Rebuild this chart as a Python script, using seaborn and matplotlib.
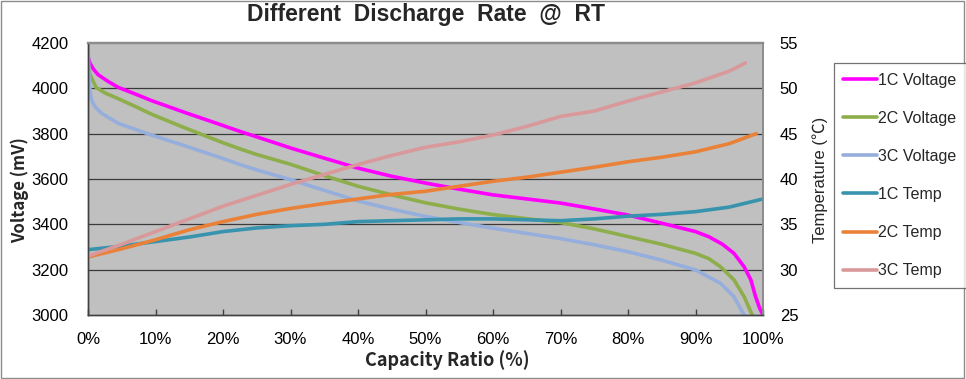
import matplotlib
matplotlib.use("Agg")
import matplotlib.pyplot as plt
import seaborn as sns
import pandas as pd
from matplotlib.patches import Rectangle
from matplotlib.ticker import FuncFormatter

# ---- data ----
v1c_x = [0, 0.3, 0.8, 1.5, 3, 4.5, 7, 9.4, 14.4, 20, 22.5, 25, 30, 35, 40, 45, 50, 55, 60, 65,
         70, 75, 80, 85, 90, 92, 94, 95.7, 97.2, 98.2, 98.9, 99.5, 100]
v1c_y = [4140, 4110, 4085, 4060, 4030, 4004, 3975, 3946, 3893, 3836, 3810, 3786, 3737, 3692, 3648,
         3612, 3582, 3555, 3530, 3512, 3494, 3468, 3441, 3405, 3368, 3345, 3312, 3272, 3213, 3155,
         3081, 3030, 3000]

v2c_x = [0, 0.3, 1.2, 2.5, 4.5, 7, 9.4, 14.4, 20, 22.5, 25, 30, 35, 40, 45, 50, 55, 60, 65, 70,
         75, 80, 85, 90, 92, 93.7, 95.7, 97.2, 98.4]
v2c_y = [4110, 4060, 4004, 3980, 3954, 3920, 3886, 3825, 3760, 3733, 3708, 3665, 3615, 3568, 3530,
         3495, 3467, 3443, 3425, 3408, 3380, 3346, 3312, 3272, 3248, 3213, 3155, 3081, 3000]

v3c_x = [0, 0.15, 0.3, 0.5, 1, 2, 4.5, 9.4, 14.4, 20, 22.5, 25, 30, 35, 40, 45, 50, 55, 60, 65,
         70, 75, 80, 85, 90, 93.7, 95.7, 97.2]
v3c_y = [4200, 4050, 3990, 3950, 3920, 3890, 3845, 3794, 3746, 3690, 3664, 3640, 3597, 3550, 3503,
         3467, 3435, 3408, 3383, 3360, 3337, 3310, 3279, 3242, 3199, 3140, 3081, 3000]

t1c_x = [0, 5, 10, 15, 20, 25, 30, 35, 40, 45, 50, 55, 60, 65, 70, 75, 80, 85, 90, 95, 100]
t1c_y = [32.2, 32.6, 33.1, 33.6, 34.2, 34.6, 34.85, 35.0, 35.3, 35.4, 35.5, 35.6, 35.6, 35.5,
         35.4, 35.6, 35.9, 36.1, 36.4, 36.9, 37.8]

t2c_x = [0, 5, 10, 15, 20, 25, 30, 35, 40, 45, 50, 55, 60, 65, 70, 75, 80, 85, 90, 95, 99]
t2c_y = [31.4, 32.3, 33.3, 34.4, 35.3, 36.1, 36.75, 37.3, 37.8, 38.3, 38.65, 39.2, 39.75, 40.2,
         40.75, 41.3, 41.9, 42.4, 43.0, 43.9, 45.0]

t3c_x = [0, 5, 10, 15, 20, 25, 30, 35, 40, 45, 50, 55, 60, 65, 70, 75, 80, 85, 90, 95, 97.4]
t3c_y = [31.5, 32.8, 34.2, 35.6, 37.0, 38.2, 39.4, 40.5, 41.6, 42.6, 43.5, 44.1, 44.85, 45.8,
         46.9, 47.5, 48.6, 49.6, 50.6, 51.9, 52.8]

volt_ticks = [3000, 3200, 3400, 3600, 3800, 4000, 4200]
temp_ticks = [25, 30, 35, 40, 45, 50, 55]
x_ticks = [0, 10, 20, 30, 40, 50, 60, 70, 80, 90, 100]

title = "Different  Discharge  Rate  @  RT"
xlabel = "Capacity Ratio (%)"
ylabel = "Voltage (mV)"
y2label = "Temperature (℃)"

colors = {
    "1C Voltage": "#FF00FF",
    "2C Voltage": "#8DAE4A",
    "3C Voltage": "#95AEDC",
    "1C Temp": "#3793AE",
    "2C Temp": "#EA8138",
    "3C Temp": "#D9999A",
}

sns.set_theme(style="white")
plt.rcParams["font.family"] = ["Liberation Sans", "Noto Sans CJK KR", "DejaVu Sans"]

fig = plt.figure(figsize=(9.66, 3.79), dpi=100)
ax = fig.add_axes([88 / 966, 1 - 315 / 379, (763 - 88) / 966, (315 - 43) / 379])
ax.set_facecolor("#C0C0C0")
ax2 = ax.twinx()

lw = 2.6
volt = [("1C Voltage", v1c_x, v1c_y), ("2C Voltage", v2c_x, v2c_y), ("3C Voltage", v3c_x, v3c_y)]
temp = [("1C Temp", t1c_x, t1c_y), ("2C Temp", t2c_x, t2c_y), ("3C Temp", t3c_x, t3c_y)]

for name, xs, ys in volt:
    df = pd.DataFrame({"x": xs, "y": ys})
    sns.lineplot(data=df, x="x", y="y", ax=ax, color=colors[name], lw=lw, label=name, legend=False)
for name, xs, ys in temp:
    df = pd.DataFrame({"x": xs, "y": ys})
    sns.lineplot(data=df, x="x", y="y", ax=ax2, color=colors[name], lw=lw, label=name, legend=False)

ax.set_xlim(0, 100)
ax.set_ylim(3000, 4200)
ax2.set_ylim(25, 55)
ax.set_xticks(x_ticks)
ax.xaxis.set_major_formatter(FuncFormatter(lambda v, p: f"{int(v)}%"))
ax.set_yticks(volt_ticks)
ax2.set_yticks(temp_ticks)

ax.grid(False)
ax2.grid(False)
for yv in volt_ticks[1:-1]:
    ax.axhline(yv, color="#3A3A3A", lw=0.9, zorder=0.5)

ax.tick_params(axis="x", direction="in", length=4, width=1, color="#404040", pad=12,
               labelsize=12, labelcolor="black", bottom=True)
ax.tick_params(axis="y", length=0, pad=14, labelsize=12, labelcolor="black")
ax2.tick_params(axis="y", length=0, pad=12, labelsize=12, labelcolor="black")

for a in (ax, ax2):
    a.set_xlabel("")
    a.set_ylabel("")
    a.spines["left"].set_color("#404040")
    a.spines["bottom"].set_color("#404040")
    a.spines["top"].set_color("#8C8C8C")
    a.spines["right"].set_color("#8C8C8C")
    a.spines["top"].set_linewidth(1.6)
    a.spines["right"].set_linewidth(1.2)
    a.spines["left"].set_linewidth(1.0)
    a.spines["bottom"].set_linewidth(1.0)

fig.text(426 / 966, 1 - 15 / 379, title, ha="center", va="center", fontsize=16.5, fontweight="bold")
fig.text(447 / 966, 1 - 360 / 379, xlabel, ha="center", va="center", fontsize=13,
         fontweight="bold", family=["Noto Sans CJK KR", "DejaVu Sans"])
fig.text(20 / 966, 1 - 190 / 379, ylabel, ha="center", va="center", rotation=90, fontsize=12,
         fontweight="bold", family=["Noto Sans CJK KR", "DejaVu Sans"])
fig.text(820 / 966, 1 - 180 / 379, y2label, ha="center", va="center", rotation=90, fontsize=12,
         family=["Liberation Sans", "Noto Sans CJK KR", "DejaVu Sans"])

h1, l1 = ax.get_legend_handles_labels()
h2, l2 = ax2.get_legend_handles_labels()
leg = fig.legend(h1 + h2, l1 + l2, loc="center", bbox_to_anchor=(900 / 966, 1 - 175.5 / 379),
                 frameon=True, fancybox=False, edgecolor="#505050", fontsize=11.5,
                 handlelength=2.1, handletextpad=0.1, labelspacing=1.45, borderpad=0.6,
                 borderaxespad=0)
leg.get_frame().set_linewidth(0.9)
leg.get_frame().set_facecolor("white")

fig.add_artist(Rectangle((0.001, 0.002), 0.997, 0.995, transform=fig.transFigure, fill=False,
                         edgecolor="#8C8C8C", lw=1.0))

fig.savefig("out.png", dpi=100, facecolor="white")
